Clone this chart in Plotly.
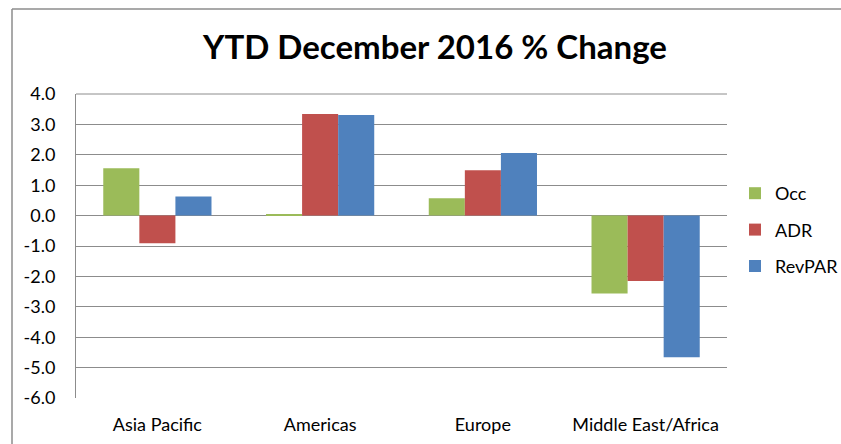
import plotly.graph_objects as go

categories = ["Asia Pacific", "Americas", "Europe", "Middle East/Africa"]
occ = [1.56, 0.02, 0.57, -2.56]
adr = [-0.91, 3.34, 1.49, -2.15]
revpar = [0.63, 3.31, 2.06, -4.66]
series_names = ["Occ", "ADR", "RevPAR"]
colors = ["#9BBB59", "#C0504D", "#4F81BD"]
tick_vals = [4, 3, 2, 1, 0, -1, -2, -3, -4, -5, -6]
tick_text = ["4.0", "3.0", "2.0", "1.0", "0.0", "-1.0", "-2.0", "-3.0", "-4.0", "-5.0", "-6.0"]

W, H = 841, 444
L, R, T, B = 76, 727, 94, 398

fig = go.Figure()
for i, (name, vals, c) in enumerate(zip(series_names, [occ, adr, revpar], colors)):
    fig.add_trace(go.Bar(x=categories, y=vals, name=name, legendgroup=str(i),
                         marker=dict(color=c, line=dict(width=0))))

pw, ph = R - L, B - T
def px(x):
    return (x - L) / pw
def py(y):
    return (B - y) / ph

fig.update_layout(
    width=W, height=H,
    margin=dict(l=L, r=W - R, t=T, b=H - B, autoexpand=False),
    paper_bgcolor="white", plot_bgcolor="white",
    font=dict(family="Lato, Open Sans, sans-serif", color="#000000", size=18),
    title=dict(text="<b>YTD December 2016 % Change</b>", x=435 / W, xref="container",
               xanchor="center", y=1 - 47 / H, yanchor="middle",
               font=dict(size=33, family="Lato, sans-serif")),
    barmode="group", bargap=0.335, bargroupgap=0,
    showlegend=True,
    legend=dict(x=px(735), y=py(175), xanchor="left", yanchor="top",
                font=dict(size=18), tracegroupgap=10, itemsizing="constant",
                itemwidth=30, bgcolor="rgba(0,0,0,0)"),
    xaxis=dict(showgrid=False, showline=False, ticks="", zeroline=False,
               tickfont=dict(size=18), ticklabelstandoff=14),
    yaxis=dict(range=[-6, 4], tickvals=tick_vals, ticktext=tick_text,
               showgrid=True, gridcolor="#8C8C8C", gridwidth=1, zeroline=True,
               zerolinecolor="#8C8C8C", zerolinewidth=1,
               showline=True, linecolor="#8C8C8C", linewidth=1,
               ticks="", tickfont=dict(size=18), ticklabelstandoff=16),
    shapes=[
        dict(type="line", xref="paper", yref="paper",
             x0=px(12), x1=px(12), y0=py(450), y1=py(9),
             line=dict(color="#8C8C8C", width=1.5)),
        dict(type="line", xref="paper", yref="paper",
             x0=px(12), x1=px(850), y0=py(9), y1=py(9),
             line=dict(color="#8C8C8C", width=1.5)),
        dict(type="line", xref="paper", yref="paper",
             x0=0, x1=1, y0=1, y1=1,
             line=dict(color="#8C8C8C", width=1)),
    ],
)

fig.write_html("out.html")
